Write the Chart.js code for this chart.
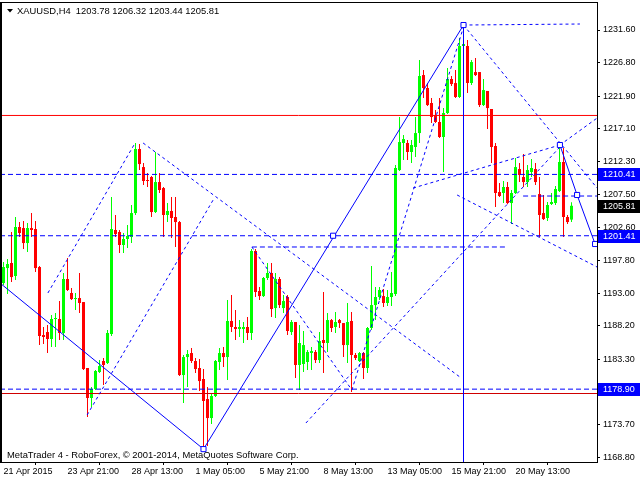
<!DOCTYPE html>
<html>
<head>
<meta charset="utf-8">
<title>XAUUSD,H4</title>
<script src="https://cdn.jsdelivr.net/npm/chart.js@4.4.1/dist/chart.umd.min.js"></script>
<style>
  html, body { margin: 0; padding: 0; background: #fff; }
  #wrap { width: 640px; height: 480px; }
</style>
</head>
<body>
<div id="wrap"><canvas id="chart" width="640" height="480"></canvas></div>
<script>
// H4 bars, index 0 = first bar on screen (21 Apr 2015)
const opens = [1194.47,1196.67,1197.41,1195.50,1202.69,1202.54,1200.34,1202.54,1202.40,1196.82,
  1186.84,1187.28,1186.26,1189.19,1189.19,1187.14,1195.06,1193.01,1192.12,1192.27,
  1191.68,1182.00,1177.60,1178.92,1181.41,1183.03,1182.73,1186.99,1202.25,1201.96,
  1200.05,1200.93,1201.22,1204.74,1214.14,1211.49,1209.59,1210.03,1204.89,1209.29,
  1208.41,1204.45,1205.04,1204.16,1203.42,1180.97,1183.61,1184.20,1183.03,1182.00,
  1180.39,1177.45,1174.66,1177.89,1182.88,1184.20,1183.61,1188.90,1188.02,1187.72,
  1187.72,1188.02,1187.14,1199.17,1193.30,1192.56,1195.21,1195.94,1190.80,1195.06,
  1190.80,1192.42,1187.28,1188.75,1182.44,1182.59,1182.88,1184.20,1184.35,1183.17,
  1186.11,1185.67,1189.04,1188.02,1189.04,1188.60,1185.37,1188.90,1183.91,1183.03,
  1184.20,1182.00,1187.87,1191.24,1192.42,1192.56,1191.54,1192.42,1192.86,1211.05,
  1215.02,1215.02,1213.70,1214.43,1216.48,1224.99,1223.09,1220.89,1219.12,1218.10,
  1215.90,1219.42,1224.41,1223.82,1221.77,1229.25,1229.25,1223.82,1225.43,1225.43,
  1220.59,1222.65,1220.01,1214.58,1207.83,1207.68,1208.56,1206.21,1207.68,1211.20,
  1210.03,1209.29,1210.76,1211.20,1207.53,1204.74,1204.01,1206.07,1206.21,1207.97,
  1212.23,1204.16,1203.78];
const highs = [1197.55,1197.99,1201.96,1204.16,1203.42,1203.57,1203.28,1204.74,1203.57,1196.97,
  1188.02,1188.31,1189.78,1190.07,1191.83,1195.94,1198.14,1193.74,1193.01,1195.94,
  1191.68,1182.00,1179.21,1181.71,1183.17,1183.47,1187.58,1207.09,1204.45,1202.25,
  1201.81,1202.98,1205.92,1215.02,1214.87,1212.08,1210.61,1210.17,1213.70,1210.61,
  1208.56,1206.21,1207.09,1207.09,1203.57,1183.91,1184.64,1184.93,1183.47,1183.32,
  1181.85,1179.21,1178.33,1183.17,1184.93,1185.08,1191.98,1192.71,1190.51,1189.04,
  1188.75,1189.48,1199.46,1199.46,1193.89,1195.35,1197.41,1197.41,1195.94,1195.35,
  1192.71,1192.71,1189.04,1188.75,1188.31,1187.43,1184.64,1185.08,1184.64,1187.28,
  1193.15,1190.07,1189.19,1190.22,1189.19,1188.60,1191.54,1190.22,1184.20,1184.35,
  1184.35,1188.02,1196.97,1193.89,1193.89,1193.59,1193.45,1196.09,1211.79,1218.83,
  1216.19,1215.46,1215.46,1218.83,1227.20,1225.73,1223.82,1221.62,1219.86,1221.62,
  1220.15,1226.02,1224.85,1225.73,1230.42,1232.33,1230.13,1227.20,1227.49,1225.43,
  1224.41,1222.65,1220.01,1215.02,1209.15,1209.44,1209.29,1208.12,1212.82,1212.08,
  1213.40,1211.79,1212.67,1212.08,1210.03,1207.39,1206.36,1207.68,1208.71,1214.72,
  1214.28,1204.45,1206.32];
const lows = [1194.18,1192.86,1194.62,1194.91,1201.22,1199.46,1199.02,1201.22,1196.09,1185.37,
  1185.52,1184.20,1185.08,1185.08,1186.11,1186.11,1193.30,1191.98,1190.51,1190.07,
  1181.71,1174.81,1176.28,1178.77,1181.27,1179.51,1182.59,1186.70,1201.22,1198.87,
  1198.87,1199.61,1200.34,1204.45,1211.05,1208.85,1208.56,1204.16,1204.74,1207.68,
  1201.22,1203.42,1201.08,1199.76,1180.83,1176.86,1179.21,1182.73,1181.27,1178.62,
  1170.26,1170.55,1173.78,1177.74,1181.71,1182.15,1180.24,1187.28,1186.11,1186.55,
  1185.67,1186.11,1186.11,1192.42,1191.98,1192.42,1194.91,1189.48,1189.34,1190.80,
  1190.07,1186.84,1186.84,1180.53,1178.77,1181.41,1181.71,1181.71,1182.73,1182.73,
  1181.27,1184.35,1187.28,1187.14,1187.87,1183.61,1182.73,1178.48,1183.17,1182.88,
  1180.39,1181.27,1187.58,1189.04,1191.98,1190.95,1191.10,1191.10,1192.56,1210.91,
  1212.52,1212.52,1212.08,1212.96,1215.02,1221.62,1220.45,1217.95,1217.95,1215.75,
  1210.76,1219.27,1223.38,1221.62,1221.62,1228.66,1222.35,1223.53,1224.85,1220.30,
  1220.45,1217.07,1212.08,1205.62,1207.09,1206.21,1206.07,1203.13,1207.53,1209.29,
  1208.56,1208.56,1210.03,1208.85,1201.22,1203.72,1203.57,1205.92,1205.92,1207.83,
  1201.22,1203.13,1203.44];
const closes = [1196.82,1197.26,1195.35,1202.69,1201.81,1200.34,1202.54,1202.25,1196.67,1186.70,
  1186.55,1186.26,1189.19,1189.34,1187.14,1195.06,1193.45,1192.12,1192.27,1191.54,
  1181.85,1177.60,1178.92,1181.56,1182.29,1182.44,1187.14,1202.40,1201.66,1200.05,
  1200.93,1201.37,1204.74,1214.14,1211.93,1209.44,1209.44,1204.89,1209.29,1208.12,
  1204.45,1205.04,1204.01,1203.42,1180.97,1183.61,1184.05,1183.03,1181.85,1180.09,
  1177.16,1174.66,1177.89,1183.03,1184.20,1183.61,1188.90,1188.02,1187.72,1188.02,
  1188.02,1187.14,1199.17,1193.15,1192.56,1195.21,1195.94,1190.66,1195.06,1191.24,
  1191.83,1187.43,1188.75,1182.44,1185.67,1185.37,1184.35,1184.49,1183.17,1185.96,
  1185.67,1189.04,1187.87,1188.75,1188.60,1185.37,1188.75,1183.91,1183.47,1184.20,
  1182.00,1187.87,1191.24,1192.42,1193.45,1191.54,1192.42,1193.01,1211.35,1215.16,
  1215.60,1213.70,1214.72,1216.48,1224.85,1223.09,1220.59,1218.83,1218.10,1215.90,
  1219.42,1224.41,1223.67,1221.77,1229.25,1229.54,1223.82,1226.90,1224.99,1220.59,
  1222.79,1220.15,1214.43,1207.68,1207.24,1208.56,1206.21,1207.68,1211.49,1210.32,
  1209.29,1211.05,1211.35,1209.29,1204.45,1203.86,1205.92,1206.36,1208.27,1212.23,
  1204.16,1203.42,1205.81];

const xTickIdx = [0, 16, 32, 48, 64, 80, 96, 112, 128];
const xTickLabels = ['21 Apr 2015', '23 Apr 21:00', '28 Apr 13:00', '1 May 05:00', '5 May 21:00',
  '8 May 13:00', '13 May 05:00', '15 May 21:00', '20 May 13:00'];
const yTicks = [1231.60, 1226.80, 1221.90, 1217.10, 1212.30, 1207.50, 1202.60, 1197.80,
  1193.00, 1188.20, 1183.30, 1178.50, 1173.70, 1168.80];

// price levels flagged on the right scale
const levelPrices = [1210.41, 1205.81, 1201.41, 1178.90];

// analysis objects, as [bar index, price]
const zigzagIdx = [-0.875, 50, 115];
const zigzagPrice = [1194.47, 1170.10, 1232.33];
const tailIdx = [139.1, 143.4, 147.9];
const tailPrice = [1214.72, 1207.39, 1200.20];
const markerIdx = [50, 82.4, 115, 139.1, 143.4, 147.9];
const markerPrice = [1170.10, 1201.41, 1232.33, 1214.72, 1207.39, 1200.20];
const vlineIdx = 115;
const vlineTop = 1232.33;
const redLevels = [1219.06, 1178.26];
// dashed lines: [idx1, price1, idx2, price2]
const dashSegments = [
  [11.1, 1193.01, 32.9, 1215.02],
  [34.9, 1215.02, 114.1, 1180.68],
  [20.9, 1175.10, 52.4, 1206.65],
  [62.1, 1199.76, 87.1, 1178.77],
  [75.6, 1173.93, 139.1, 1214.43],
  [139.1, 1214.72, 148.4, 1218.68],
  [87.1, 1178.77, 115, 1232.04],
  [102.4, 1208.41, 139.1, 1214.72],
  [113.4, 1207.39, 148.4, 1196.82],
  [115, 1232.33, 148.4, 1208.41],
  [115, 1232.33, 144.1, 1232.48],
  [62.1, 1199.76, 125.4, 1199.76],
  [129.9, 1207.24, 148.4, 1207.24],
  [-0.875, 1210.41, 148.4, 1210.41],
  [-0.875, 1201.41, 148.4, 1201.41],
  [-0.875, 1178.90, 148.4, 1178.90]
];

const X_MIN = -0.875, X_MAX = 148.375;
const Y_MIN = 1168.21, Y_MAX = 1235.71;

const UP = '#00ff00', DOWN = '#ff0000', BLUE = '#0000ff';
const FONT = '"Liberation Sans", Arial, sans-serif';

const candleColors = opens.map((o, i) => closes[i] >= o ? UP : DOWN);

const datasets = [];

// objects go on top of the candles (lower order is drawn later)
dashSegments.forEach(s => {
  datasets.push({
    type: 'line',
    data: [{x: s[0], y: s[1]}, {x: s[2], y: s[3]}],
    borderColor: BLUE,
    borderWidth: 1,
    borderDash: s[1] === s[3] ? [5, 3] : [3, 3],
    pointRadius: 0,
    fill: false,
    order: 2
  });
});

redLevels.forEach((p, i) => {
  datasets.push({
    type: 'line',
    data: [{x: X_MIN, y: p}, {x: X_MAX, y: p}],
    borderColor: i === 0 ? '#ff0000' : '#d00000',
    borderWidth: 1,
    pointRadius: 0,
    order: 2
  });
});

datasets.push({
  type: 'line',
  data: [{x: vlineIdx, y: vlineTop}, {x: vlineIdx, y: Y_MIN}],
  borderColor: BLUE, borderWidth: 1, pointRadius: 0, order: 1
});

datasets.push({
  type: 'line',
  data: zigzagIdx.map((x, i) => ({x: x, y: zigzagPrice[i]})),
  borderColor: BLUE, borderWidth: 1, pointRadius: 0, order: 1
});

datasets.push({
  type: 'line',
  data: tailIdx.map((x, i) => ({x: x, y: tailPrice[i]})),
  borderColor: BLUE, borderWidth: 1, pointRadius: 0, order: 1
});

datasets.push({
  type: 'line',
  data: markerIdx.map((x, i) => ({x: x, y: markerPrice[i]})),
  showLine: false,
  pointStyle: 'rect',
  pointRadius: 3.6,
  pointBackgroundColor: '#ffffff',
  pointBorderColor: BLUE,
  pointBorderWidth: 1,
  order: 0
});

// wicks and bodies as floating bars
datasets.push({
  type: 'bar',
  data: opens.map((o, i) => ({x: i, y: [lows[i], highs[i]]})),
  backgroundColor: candleColors,
  barThickness: 1,
  grouped: false,
  inflateAmount: 0,
  borderWidth: 0,
  order: 10
});
datasets.push({
  type: 'bar',
  data: opens.map((o, i) => ({x: i, y: [o, closes[i]]})),
  backgroundColor: candleColors,
  barThickness: 3,
  grouped: false,
  inflateAmount: 0,
  borderWidth: 0,
  minBarLength: 1,
  order: 9
});

const mtOverlay = {
  id: 'mtOverlay',
  afterDraw(chart) {
    const {ctx, chartArea: a, scales: {y}} = chart;
    ctx.save();

    // plot frame
    ctx.strokeStyle = '#000';
    ctx.lineWidth = 1;
    ctx.strokeRect(a.left + 0.5, a.top + 0.5, a.right - a.left, a.bottom - a.top);
    ctx.beginPath();
    ctx.moveTo(a.left + 1.5, a.top);
    ctx.lineTo(a.left + 1.5, a.bottom);
    ctx.stroke();

    // flagged prices on the scale
    ctx.font = '9px ' + FONT;
    ctx.textBaseline = 'middle';
    ctx.textAlign = 'left';
    levelPrices.forEach((p) => {
      const py = Math.round(y.getPixelForValue(p));
      ctx.fillStyle = p === closes[closes.length - 1] ? '#000000' : BLUE;
      ctx.fillRect(a.right + 1, py - 6, chart.width - a.right - 1, 13);
      ctx.fillStyle = '#ffffff';
      ctx.fillText(p.toFixed(2), a.right + 6, py + 0.5);
    });

    // symbol header
    ctx.font = '9.4px ' + FONT;
    ctx.fillStyle = '#000';
    ctx.beginPath();
    ctx.moveTo(7, 9);
    ctx.lineTo(13, 9);
    ctx.lineTo(10, 12.5);
    ctx.closePath();
    ctx.fill();
    ctx.fillText('XAUUSD,H4  ' + [opens, highs, lows, closes].map(s => s[s.length - 1].toFixed(2)).join(' '), 17, 11);

    ctx.fillText('MetaTrader 4 - RoboForex, \u00a9 2001-2014, MetaQuotes Software Corp.', 7, 455);
    ctx.restore();
  }
};

new Chart(document.getElementById('chart').getContext('2d'), {
  type: 'bar',
  data: { datasets: datasets },
  options: {
    responsive: false,
    animation: false,
    devicePixelRatio: 1,
    events: [],
    layout: { autoPadding: false, padding: { left: 0, top: 2, right: 0, bottom: 0 } },
    plugins: {
      legend: { display: false },
      tooltip: { enabled: false },
      title: { display: false }
    },
    scales: {
      x: {
        type: 'linear',
        min: X_MIN,
        max: X_MAX,
        offset: false,
        afterBuildTicks: (scale) => { scale.ticks = xTickIdx.map(v => ({value: v})); },
        afterFit: (scale) => { scale.height = 18; scale.paddingLeft = 0; scale.paddingRight = 0; },
        grid: { drawOnChartArea: false, tickLength: 3, color: '#000' },
        border: { display: false },
        ticks: {
          autoSkip: false,
          maxRotation: 0,
          align: 'start',
          padding: 1,
          color: '#000',
          font: { family: FONT, size: 9 },
          callback: (v) => xTickLabels[xTickIdx.indexOf(v)]
        }
      },
      y: {
        type: 'linear',
        position: 'right',
        min: Y_MIN,
        max: Y_MAX,
        afterBuildTicks: (scale) => { scale.ticks = yTicks.map(v => ({value: v})); },
        afterFit: (scale) => { scale.width = 43; scale.paddingTop = 0; scale.paddingBottom = 0; },
        grid: { drawOnChartArea: false, tickLength: 3, color: '#000' },
        border: { display: false },
        ticks: {
          autoSkip: false,
          padding: 3,
          color: '#000',
          font: { family: FONT, size: 9 },
          callback: (v) => v.toFixed(2)
        }
      }
    }
  },
  plugins: [mtOverlay]
});
</script>
</body>
</html>
